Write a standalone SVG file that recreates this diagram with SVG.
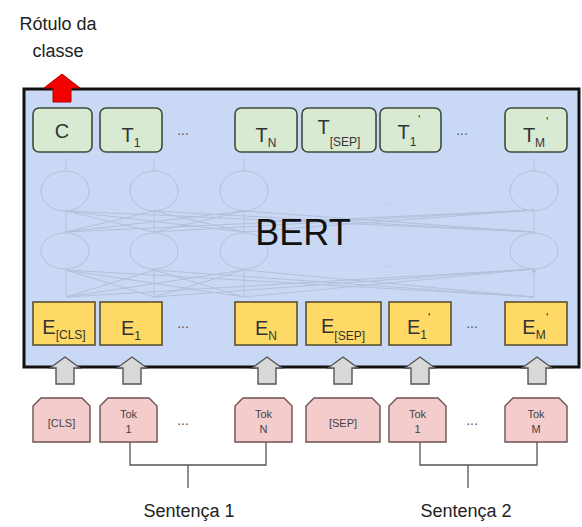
<svg xmlns="http://www.w3.org/2000/svg" width="582" height="527" viewBox="0 0 582 527">
<style>
text{font-family:"Liberation Sans",Arial,sans-serif;fill:#333}
.lbl{fill:#222;font-size:18px}
.tb{fill:#d9ead3;stroke:#3f4a3c;stroke-width:1.6}
.eb{fill:#ffd966;stroke:#5a5030;stroke-width:1.6}
.pk{fill:#f4cccc;stroke:#6e5050;stroke-width:1.4}
.ga{fill:#d9d9d9;stroke:#555;stroke-width:1.4}
.net{fill:none;stroke:#b2c0da;stroke-width:1}
.big{font-size:20px}
.sub{font-size:12px}
.tk{font-size:11px;fill:#444}
.dots{font-size:14px;fill:#555}
.fd{font-size:12px;fill:#b6c3dc}
.br{fill:none;stroke:#555;stroke-width:1.3}
</style>
<defs>
<marker id="na" markerWidth="5" markerHeight="5" refX="2.5" refY="2.5" orient="auto"><path d="M0,0 L5,2.5 L0,5 z" fill="#b2c0da"/></marker>
</defs>
<rect width="582" height="527" fill="#fff"/>

<!-- label -->
<g id="label-classe">
<text class="lbl" x="58" y="30" text-anchor="middle" font-size="20">Rótulo da</text>
<text class="lbl" x="58" y="57" text-anchor="middle" font-size="20">classe</text>
</g>

<!-- main BERT box -->
<g id="bert">
<rect x="24" y="89" width="555" height="278" fill="#c9d9f5" stroke="#111" stroke-width="3"/>
<!-- faint network -->
<g class="net">
<ellipse cx="65" cy="191" rx="24" ry="20"/><ellipse cx="154" cy="191" rx="24" ry="20"/><ellipse cx="244" cy="191" rx="24" ry="20"/><ellipse cx="534" cy="191" rx="24" ry="20"/>
<ellipse cx="65" cy="251" rx="24" ry="18"/><ellipse cx="154" cy="251" rx="24" ry="18"/><ellipse cx="244" cy="251" rx="24" ry="18"/><ellipse cx="534" cy="251" rx="24" ry="18"/>
<path d="M66,171 V159 M154,171 V159 M244,171 V159 M534,171 V159 M66,233 V212 M154,233 V212 M244,233 V212 M534,233 V212 M66,297 V270 M154,297 V270 M244,297 V270 M534,297 V270" marker-end="url(#na)"/>
<path d="M66,232 L154,211 M66,232 L244,211 M66,232 L534,210 M154,232 L66,211 M154,232 L244,211 M154,232 L534,210 M244,232 L66,211 M244,232 L154,211 M244,232 L534,210 M534,232 L66,211 M534,232 L154,211 M534,232 L244,211"/>
<path d="M66,297 L154,270 M66,297 L244,270 M66,297 L534,269 M154,297 L66,270 M154,297 L244,270 M154,297 L534,269 M244,297 L66,270 M244,297 L154,270 M244,297 L534,269 M534,297 L66,270 M534,297 L154,270 M534,297 L244,270"/>
</g>
<text class="fd" x="385" y="205" text-anchor="middle">...</text>
<text class="fd" x="385" y="267" text-anchor="middle">...</text>
<text x="303" y="245" text-anchor="middle" font-size="36" fill="#111" style="fill:#111">BERT</text>
</g>

<!-- red output arrow -->
<g id="out-arrow">
<path d="M62,74 L80,88 L71,88 L71,102 L53,102 L53,88 L44,88 Z" fill="#f20000" stroke="#b00000" stroke-width="1"/>
</g>

<!-- top T boxes -->
<g id="T-C"><rect class="tb" x="33" y="108" width="59" height="44" rx="6"/><text class="big" x="62" y="138" text-anchor="middle">C</text></g>
<g id="T-1"><rect class="tb" x="100" y="108" width="62" height="44" rx="6"/><text class="big" x="131" y="142" text-anchor="middle">T<tspan class="sub" dy="5">1</tspan></text></g>
<text class="dots" x="183" y="135" text-anchor="middle">...</text>
<g id="T-N"><rect class="tb" x="235" y="108" width="62" height="44" rx="6"/><text class="big" x="266" y="142" text-anchor="middle">T<tspan class="sub" dy="5">N</tspan></text></g>
<g id="T-SEP"><rect class="tb" x="302" y="108" width="74" height="44" rx="6"/><text class="big" x="339" y="134" text-anchor="middle">T<tspan class="sub" dy="12">[SEP]</tspan></text></g>
<g id="T-1p"><rect class="tb" x="380" y="108" width="61" height="44" rx="6"/><text class="big" x="407" y="139" text-anchor="middle">T<tspan class="sub" dy="7">1</tspan></text><text class="sub" x="418" y="124">'</text></g>
<text class="dots" x="462" y="135" text-anchor="middle">...</text>
<g id="T-Mp"><rect class="tb" x="505" y="108" width="62" height="44" rx="6"/><text class="big" x="534" y="142" text-anchor="middle">T<tspan class="sub" dy="5">M</tspan></text><text class="sub" x="546" y="126">'</text></g>

<!-- E boxes -->
<g id="E-CLS"><rect class="eb" x="33" y="302" width="62" height="43"/><text class="big" x="64" y="334" text-anchor="middle">E<tspan class="sub" dy="5">[CLS]</tspan></text></g>
<g id="E-1"><rect class="eb" x="100" y="302" width="62" height="43"/><text class="big" x="131" y="335" text-anchor="middle">E<tspan class="sub" dy="5">1</tspan></text></g>
<text class="dots" x="183" y="328" text-anchor="middle">...</text>
<g id="E-N"><rect class="eb" x="235" y="302" width="62" height="43"/><text class="big" x="266" y="335" text-anchor="middle">E<tspan class="sub" dy="5">N</tspan></text></g>
<g id="E-SEP"><rect class="eb" x="306" y="302" width="75" height="43"/><text class="big" x="343" y="333" text-anchor="middle">E<tspan class="sub" dy="7">[SEP]</tspan></text></g>
<g id="E-1p"><rect class="eb" x="389" y="302" width="62" height="43"/><text class="big" x="417" y="334" text-anchor="middle">E<tspan class="sub" dy="5">1</tspan></text><text class="sub" x="428" y="322">'</text></g>
<text class="dots" x="472" y="328" text-anchor="middle">...</text>
<g id="E-Mp"><rect class="eb" x="505" y="302" width="62" height="43"/><text class="big" x="534" y="334" text-anchor="middle">E<tspan class="sub" dy="5">M</tspan></text><text class="sub" x="546" y="322">'</text></g>

<!-- gray input arrows -->
<g id="connectors">
<path class="ga" d="M65,357 L80,368 L74,368 L74,384 L56,384 L56,368 L50,368 Z"/>
<path class="ga" d="M132,357 L147,368 L141,368 L141,384 L123,384 L123,368 L117,368 Z"/>
<path class="ga" d="M267,357 L282,368 L276,368 L276,384 L258,384 L258,368 L252,368 Z"/>
<path class="ga" d="M343,357 L358,368 L352,368 L352,384 L334,384 L334,368 L328,368 Z"/>
<path class="ga" d="M420,357 L435,368 L429,368 L429,384 L411,384 L411,368 L405,368 Z"/>
<path class="ga" d="M537,357 L552,368 L546,368 L546,384 L528,384 L528,368 L522,368 Z"/>
<path class="br" d="M130,442 V465 H266 V442 M188,465 V488"/>
<path class="br" d="M420,442 V465 H537 V442 M468,465 V488"/>
</g>

<!-- token boxes -->
<g id="tok-cls"><path class="pk" d="M33,442 V406 L41,398 H82 L90,406 V442 Z"/><text class="tk" x="61.5" y="427" text-anchor="middle">[CLS]</text></g>
<g id="tok-1"><path class="pk" d="M100,442 V406 L108,398 H149 L157,406 V442 Z"/><text class="tk" x="128.5" y="418" text-anchor="middle">Tok</text><text class="tk" x="128.5" y="433" text-anchor="middle">1</text></g>
<text class="dots" x="183" y="425" text-anchor="middle">...</text>
<g id="tok-N"><path class="pk" d="M235,442 V406 L243,398 H284 L292,406 V442 Z"/><text class="tk" x="263.5" y="418" text-anchor="middle">Tok</text><text class="tk" x="263.5" y="433" text-anchor="middle">N</text></g>
<g id="tok-sep"><path class="pk" d="M306,442 V406 L314,398 H372 L380,406 V442 Z"/><text class="tk" x="343" y="427" text-anchor="middle">[SEP]</text></g>
<g id="tok-1p"><path class="pk" d="M389,442 V406 L397,398 H438 L446,406 V442 Z"/><text class="tk" x="417.5" y="418" text-anchor="middle">Tok</text><text class="tk" x="417.5" y="433" text-anchor="middle">1</text></g>
<text class="dots" x="472" y="425" text-anchor="middle">...</text>
<g id="tok-M"><path class="pk" d="M505,442 V406 L513,398 H559 L567,406 V442 Z"/><text class="tk" x="536" y="418" text-anchor="middle">Tok</text><text class="tk" x="536" y="433" text-anchor="middle">M</text></g>

<g id="sent1"><text class="lbl" x="189" y="517" text-anchor="middle" font-size="17">Sentença 1</text></g>
<g id="sent2"><text class="lbl" x="466" y="517" text-anchor="middle" font-size="17">Sentença 2</text></g>
</svg>
